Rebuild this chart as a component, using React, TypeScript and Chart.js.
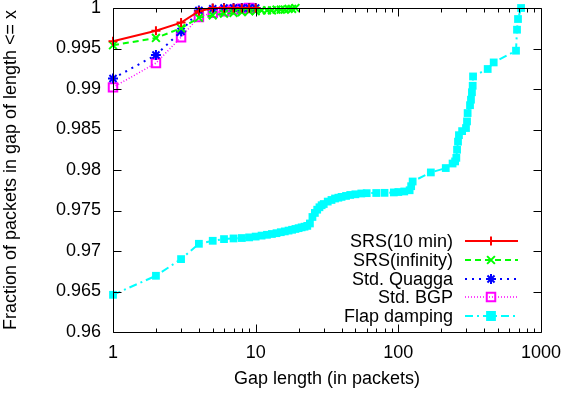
import { useEffect, useRef } from "react";
import { Chart, registerables } from "chart.js";

Chart.register(...registerables);

const FONT = "'Liberation Sans', Arial, Helvetica, sans-serif";
const FS = 18;

const xTickLabels = [1, 10, 100, 1000];
const yTickStep = 0.005;

const srs10X = [1, 2, 3, 4, 5, 6, 7, 8, 9, 10];
const srs10Y = [0.9959, 0.9972, 0.9982, 0.9996, 1, 1, 1, 1, 1, 1];

const srsInfX = [1, 2, 3, 4, 5, 6, 7, 8, 9, 10, 11, 12, 13, 14, 15, 16, 17, 18, 19];
const srsInfY = [0.9954, 0.9963, 0.9975, 0.9988, 0.9991, 0.9993, 0.9994, 0.9995, 0.9996, 0.9996, 0.9997, 0.9997, 0.9997, 0.9998, 0.9998, 0.9998, 0.9999, 0.9999, 1.0];

const quaggaX = [1, 2, 3, 4, 5, 6, 7, 8, 9, 10];
const quaggaY = [0.9913, 0.9942, 0.9971, 0.9997, 0.9999, 1, 1, 1, 1, 1];

const bgpX = [1, 2, 3, 4, 5, 6, 7, 8, 9];
const bgpY = [0.9902, 0.9932, 0.9964, 0.9989, 0.9994, 0.9996, 0.9998, 0.9999, 1.0];

const flapX = [
  1, 2, 3, 4, 5, 6, 7, 8, 9, 10, 11, 12, 13, 14, 15, 16, 17, 18, 19, 20,
  21, 22, 23, 24, 25, 26, 27, 28, 29, 30, 32, 34, 36, 38, 40, 43, 46, 50, 55, 60,
  70, 80, 93, 100, 110, 120, 123, 126, 169, 215, 240, 250, 255, 258, 262, 266, 280, 298, 303, 306,
  318, 323, 328, 332, 334, 423, 466, 668, 679, 690, 725,
];
const flapY = [
  0.96459, 0.96694, 0.969, 0.97089, 0.97126, 0.97147, 0.97155, 0.9716, 0.97168, 0.97178,
  0.9719, 0.972, 0.9721, 0.9722, 0.97232, 0.97242, 0.97252, 0.97262, 0.97272, 0.97282,
  0.97292, 0.973, 0.9731, 0.9734, 0.9742, 0.9747, 0.9751, 0.9754, 0.97565, 0.9758,
  0.9761, 0.9763, 0.97648, 0.97658, 0.97668, 0.9768, 0.97692, 0.977, 0.9771, 0.97714,
  0.97716, 0.97718, 0.97723, 0.97728, 0.97735, 0.9775, 0.978, 0.97858, 0.9797, 0.98024,
  0.9808, 0.98106, 0.9815, 0.9825, 0.9835, 0.9843, 0.9848, 0.98518, 0.986, 0.98703,
  0.988, 0.98868, 0.9896, 0.9904, 0.99155, 0.99247, 0.99328, 0.99473, 0.99732, 0.99864, 1.0,
];

const seriesNames = ["SRS(10 min)", "SRS(infinity)", "Std. Quagga", "Std. BGP", "Flap damping"];

const pts = (xs: number[], ys: number[]) => xs.map((x, i) => ({ x, y: ys[i] }));

const frameTicks = {
  id: "frameTicks",
  afterDraw(chart: any) {
    const { ctx, chartArea: a, scales } = chart;
    const xs = scales.x;
    const ys = scales.y;
    ctx.save();
    ctx.strokeStyle = "#000";
    ctx.lineWidth = 1;
    ctx.setLineDash([]);
    ctx.beginPath();
    const L = Math.round(a.left) + 0.5;
    const R = Math.round(a.right) + 0.5;
    const T = Math.round(a.top) + 0.5;
    const B = Math.round(a.bottom) + 0.5;
    ctx.rect(L, T, R - L, B - T);
    for (let v = 0.96; v <= 1.00001; v += yTickStep) {
      const py = Math.round(ys.getPixelForValue(v)) + 0.5;
      ctx.moveTo(L, py);
      ctx.lineTo(L + 8, py);
      ctx.moveTo(R, py);
      ctx.lineTo(R - 8, py);
    }
    for (const d of [1, 10, 100]) {
      for (let m = 1; m <= 9; m++) {
        const px = Math.round(xs.getPixelForValue(d * m)) + 0.5;
        const len = m === 1 ? 8 : 4;
        ctx.moveTo(px, B);
        ctx.lineTo(px, B - len);
        ctx.moveTo(px, T);
        ctx.lineTo(px, T + len);
      }
    }
    ctx.stroke();

    // legend
    const rowY = [241, 260, 279, 297, 316];
    const textRight = 453;
    const lx1 = 465;
    const lx2 = 518;
    const mx = 491;
    ctx.font = `${FS}px ${FONT}`;
    ctx.textAlign = "right";
    ctx.textBaseline = "middle";
    chart.data.datasets.forEach((ds: any, i: number) => {
      const y = rowY[i];
      ctx.fillStyle = "#000";
      ctx.fillText(seriesNames[i], textRight, y + 1);
      ctx.strokeStyle = ds.borderColor;
      ctx.lineWidth = ds.borderWidth;
      ctx.setLineDash(ds.borderDash || []);
      ctx.beginPath();
      ctx.moveTo(lx1, y);
      ctx.lineTo(lx2, y);
      ctx.stroke();
      ctx.setLineDash([]);
      (Chart as any).helpers
        ? null
        : null;
      drawMarker(ctx, ds, mx, y);
    });
    ctx.restore();
  },
};

function drawMarker(ctx: CanvasRenderingContext2D, ds: any, x: number, y: number) {
  const r = ds.pointRadius;
  ctx.save();
  ctx.strokeStyle = ds.pointBorderColor;
  ctx.fillStyle = ds.pointBackgroundColor;
  ctx.lineWidth = ds.pointBorderWidth;
  ctx.setLineDash([]);
  ctx.beginPath();
  const st = ds.pointStyle;
  if (st === "cross") {
    ctx.moveTo(x - r, y); ctx.lineTo(x + r, y);
    ctx.moveTo(x, y - r); ctx.lineTo(x, y + r);
    ctx.stroke();
  } else if (st === "crossRot") {
    const o = r * Math.SQRT1_2;
    ctx.moveTo(x - o, y - o); ctx.lineTo(x + o, y + o);
    ctx.moveTo(x - o, y + o); ctx.lineTo(x + o, y - o);
    ctx.stroke();
  } else if (st === "star") {
    const o = r * Math.SQRT1_2;
    ctx.moveTo(x - r, y); ctx.lineTo(x + r, y);
    ctx.moveTo(x, y - r); ctx.lineTo(x, y + r);
    ctx.moveTo(x - o, y - o); ctx.lineTo(x + o, y + o);
    ctx.moveTo(x - o, y + o); ctx.lineTo(x + o, y - o);
    ctx.stroke();
  } else if (st === "rect") {
    const s = r * Math.SQRT1_2;
    ctx.rect(x - s, y - s, 2 * s, 2 * s);
    ctx.fill();
    ctx.stroke();
  }
  ctx.restore();
}

export default function App() {
  const ref = useRef<HTMLCanvasElement | null>(null);
  useEffect(() => {
    if (!ref.current) return;
    const chart = new Chart(ref.current, {
      type: "line",
      data: {
        datasets: [
          {
            label: seriesNames[0],
            data: pts(srs10X, srs10Y),
            borderColor: "#ff0000",
            borderWidth: 2,
            pointStyle: "cross",
            pointRadius: 4.5,
            pointBorderWidth: 2,
            pointBorderColor: "#ff0000",
            pointBackgroundColor: "#ff0000",
            clip: false,
          },
          {
            label: seriesNames[1],
            data: pts(srsInfX, srsInfY),
            borderColor: "#00ff00",
            borderWidth: 2,
            borderDash: [6, 4],
            pointStyle: "crossRot",
            pointRadius: 5.5,
            pointBorderWidth: 2,
            pointBorderColor: "#00ff00",
            pointBackgroundColor: "#00ff00",
            clip: false,
          },
          {
            label: seriesNames[2],
            data: pts(quaggaX, quaggaY),
            borderColor: "#0000ff",
            borderWidth: 2,
            borderDash: [2, 5],
            pointStyle: "star",
            pointRadius: 5,
            pointBorderWidth: 2,
            pointBorderColor: "#0000ff",
            pointBackgroundColor: "#0000ff",
            clip: false,
          },
          {
            label: seriesNames[3],
            data: pts(bgpX, bgpY),
            borderColor: "#ff00ff",
            borderWidth: 1.5,
            borderDash: [1, 2],
            pointStyle: "rect",
            pointRadius: 6,
            pointBorderWidth: 2,
            pointBorderColor: "#ff00ff",
            pointBackgroundColor: "rgba(0,0,0,0)",
            clip: false,
          },
          {
            label: seriesNames[4],
            data: pts(flapX, flapY),
            borderColor: "#00ffff",
            borderWidth: 2,
            borderDash: [8, 4, 2, 4],
            pointStyle: "rect",
            pointRadius: 5.5,
            pointBorderWidth: 0,
            pointBorderColor: "#00ffff",
            pointBackgroundColor: "#00ffff",
            clip: false,
          },
        ] as any,
      },
      options: {
        animation: false,
        responsive: true,
        maintainAspectRatio: false,
        events: [],
        layout: { padding: { top: 8, right: 22, left: 0, bottom: 0 } },
        plugins: { legend: { display: false }, tooltip: { enabled: false } },
        elements: { line: { tension: 0 } },
        scales: {
          x: {
            type: "logarithmic",
            min: 1,
            max: 1000,
            grid: { display: false, drawTicks: false },
            border: { display: false },
            afterBuildTicks: (s: any) => {
              s.ticks = xTickLabels.map((v) => ({ value: v }));
            },
            afterFit: (s: any) => {
              s.height = 61;
              s.paddingLeft = 0;
              s.paddingRight = 0;
            },
            ticks: {
              color: "#000",
              font: { family: FONT, size: FS },
              padding: 10,
              maxRotation: 0,
              autoSkip: false,
              callback: (v: any) => String(v),
            },
            title: {
              display: true,
              text: "Gap length (in packets)",
              color: "#000",
              font: { family: FONT, size: FS },
              padding: { top: 0, bottom: 3 },
            },
          },
          y: {
            type: "linear",
            min: 0.96,
            max: 1,
            grid: { display: false, drawTicks: false },
            border: { display: false },
            afterFit: (s: any) => {
              s.width = 113;
              s.paddingTop = 0;
              s.paddingBottom = 0;
            },
            ticks: {
              stepSize: yTickStep,
              color: "#000",
              font: { family: FONT, size: FS },
              padding: 12,
              callback: (v: any) => String(Math.round(Number(v) * 1000) / 1000),
            },
            title: {
              display: true,
              text: "Fraction of packets in gap of length <= x",
              color: "#000",
              font: { family: FONT, size: FS },
              padding: { top: 0, bottom: 1 },
            },
          },
        },
      },
      plugins: [frameTicks],
    });
    return () => chart.destroy();
  }, []);
  return (
    <div style={{ position: "absolute", left: 0, top: 0, width: 563, height: 393, background: "#fff" }}>
      <canvas ref={ref} />
    </div>
  );
}
